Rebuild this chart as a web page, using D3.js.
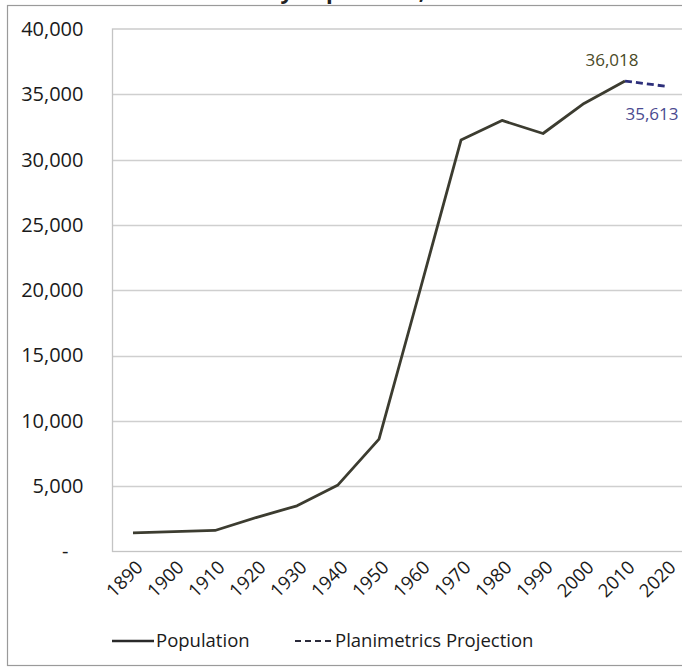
<!DOCTYPE html>
<html>
<head>
<meta charset="utf-8">
<script src="https://cdn.jsdelivr.net/npm/d3@7"></script>
<style>
  html, body { margin: 0; padding: 0; background: #fff; }
  svg { display: block; font-family: "Open Sans", "Noto Sans", sans-serif; }
</style>
</head>
<body>
<svg id="chart" width="682" height="668"></svg>
<script>
// Census years and counts
const years = ["1890", "1900", "1910", "1920", "1930", "1940", "1950", "1960", "1970", "1980", "1990", "2000", "2010", "2020"];
const populationYears = ["1890", "1900", "1910", "1920", "1930", "1940", "1950", "1960", "1970", "1980", "1990", "2000", "2010"];
const population = [1430, 1520, 1610, 2600, 3500, 5100, 8600, 20000, 31500, 33000, 32000, 34300, 36018];
const projectionYears = ["2010", "2020"];
const projection = [36018, 35613];
const yTicks = [0, 5000, 10000, 15000, 20000, 25000, 30000, 35000, 40000];

const svg = d3.select("#chart");

const plot = { left: 112.5, top: 29, bottom: 551.5, right: 686.5 };

const x = d3.scaleBand().domain(years).range([plot.left, plot.right]).padding(0);
const xc = d => x(d) + x.bandwidth() / 2;
const y = d3.scaleLinear().domain([0, 40000]).range([plot.bottom, plot.top]);

// outer chart frame
svg.append("rect")
  .attr("x", 7.5).attr("y", 5.5)
  .attr("width", 700).attr("height", 660)
  .attr("fill", "#fff")
  .attr("stroke", "#9a9a9a").attr("stroke-width", 1.2);

// title (sits mostly above the frame)
svg.append("text")
  .attr("x", 400).attr("y", -1)
  .attr("text-anchor", "middle")
  .attr("font-size", 22).attr("font-weight", "bold")
  .attr("fill", "#222")
  .text("City Population, 1890 - 2020");

// gridlines
svg.append("g")
  .selectAll("line")
  .data(yTicks.filter(t => t > 0 && t < 40000))
  .join("line")
  .attr("x1", plot.left).attr("x2", plot.right)
  .attr("y1", d => Math.round(y(d)) + 0.5).attr("y2", d => Math.round(y(d)) + 0.5)
  .attr("stroke", "#cfcfcf").attr("stroke-width", 1.3);

// plot area border
svg.append("rect")
  .attr("x", plot.left).attr("y", plot.top)
  .attr("width", plot.right - plot.left).attr("height", plot.bottom - plot.top)
  .attr("fill", "none")
  .attr("stroke", "#c4c4c4").attr("stroke-width", 1.3);

// y axis
const yAxis = svg.append("g")
  .attr("transform", `translate(${plot.left},0)`)
  .call(d3.axisLeft(y).tickValues(yTicks).tickSize(0).tickPadding(29)
    .tickFormat(d => d === 0 ? "-" : d3.format(",")(d)));
yAxis.select(".domain").remove();
yAxis.selectAll("text")
  .attr("font-family", "'Open Sans', sans-serif")
  .attr("font-size", 20)
  .attr("fill", "#1a1a1a")
  .attr("dx", d => d === 0 ? -15 : 0);

// x axis labels, rotated
const xAxis = svg.append("g")
  .attr("transform", `translate(0,${plot.bottom})`)
  .call(d3.axisBottom(x).tickSize(0).tickPadding(0));
xAxis.select(".domain").remove();
xAxis.selectAll("text")
  .attr("font-family", "'Open Sans', sans-serif")
  .attr("font-size", 18.5)
  .attr("fill", "#1a1a1a")
  .attr("text-anchor", "end")
  .attr("dy", 0)
  .attr("transform", "translate(11,17) rotate(-45)");

// population line
const line = d3.line().x(d => xc(d[0])).y(d => y(d[1]));
svg.append("path")
  .datum(populationYears.map((yr, i) => [yr, population[i]]))
  .attr("d", line)
  .attr("fill", "none")
  .attr("stroke", "#3c3c30").attr("stroke-width", 2.8)
  .attr("stroke-linejoin", "round");

// projection line
svg.append("path")
  .datum(projectionYears.map((yr, i) => [yr, projection[i]]))
  .attr("d", line)
  .attr("fill", "none")
  .attr("stroke", "#2d2f7a").attr("stroke-width", 2.8)
  .attr("stroke-dasharray", "7,4");

// value labels
const lastPop = population[population.length - 1];
svg.append("text")
  .attr("x", xc("2010") - 13).attr("y", y(lastPop) - 15)
  .attr("text-anchor", "middle")
  .attr("font-size", 17).attr("fill", "#4a4a28")
  .text(d3.format(",")(lastPop));
const lastProj = projection[projection.length - 1];
svg.append("text")
  .attr("x", xc("2020") - 14).attr("y", y(lastProj) + 34)
  .attr("text-anchor", "middle")
  .attr("font-size", 17).attr("fill", "#4a4a90")
  .text(d3.format(",")(lastProj));

// legend
const legY = 641;
const leg = svg.append("g");
leg.append("line")
  .attr("x1", 112).attr("x2", 154).attr("y1", legY).attr("y2", legY)
  .attr("stroke", "#2a2a2a").attr("stroke-width", 2.4);
leg.append("text")
  .attr("x", 156).attr("y", legY + 6)
  .attr("font-size", 18.5).attr("fill", "#1a1a1a")
  .text("Population");
leg.append("line")
  .attr("x1", 295).attr("x2", 334).attr("y1", legY).attr("y2", legY)
  .attr("stroke", "#2a2a3a").attr("stroke-width", 2.2)
  .attr("stroke-dasharray", "6,4");
leg.append("text")
  .attr("x", 335).attr("y", legY + 6)
  .attr("font-size", 18.5).attr("fill", "#1a1a1a")
  .text("Planimetrics Projection");
</script>
</body>
</html>
